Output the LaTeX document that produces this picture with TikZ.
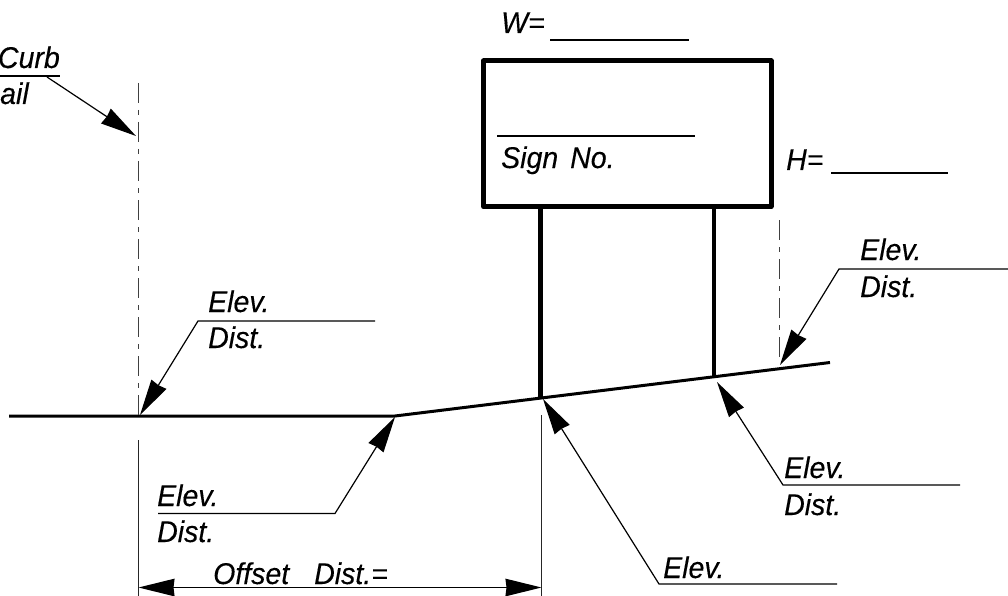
\documentclass[tikz,border=0pt]{standalone}
\usepackage{fontspec}
\setmainfont{Liberation Sans}[FakeStretch=0.95,FakeBold=0.25]
\usetikzlibrary{arrows.meta}
\tikzset{
  x=1pt,y=-1pt,
  lab/.style={inner sep=0pt,anchor=base west,font=\fontsize{30}{30}\selectfont\itshape},
  thin line/.style={line width=1.2pt,draw=black},
  leader/.style={line width=1.2pt,draw=black,-{Stealth[length=36pt,width=17.5pt,inset=1pt]}},
  dimline/.style={line width=1.2pt,draw=black,{Stealth[length=36pt,width=17.5pt,inset=1pt]}-{Stealth[length=36pt,width=17.5pt,inset=1pt]}},
  ground/.style={line width=3pt,draw=black},
  heavy/.style={line width=5pt,draw=black,line join=round},
  center line/.style={line width=0.9pt,draw=black!75,dash pattern=on 20pt off 7pt on 5pt off 7pt},
  ext/.style={line width=1.2pt,draw=black!85}
}
\begin{document}
\begin{tikzpicture}
\useasboundingbox (0,0) rectangle (1008,596);
% sign
\coordinate (signTL) at (483.5,61);
\coordinate (signBR) at (771,206.7);
\draw[heavy] (signTL) rectangle (signBR);
\coordinate (postLtop) at (540.5,207);
\coordinate (postRtop) at (714,207);
\coordinate (postLbot) at (540.5,398);
\coordinate (postRbot) at (714,377);
\draw[line width=5pt] (postLtop) -- (postLbot);
\draw[line width=4.5pt] (postRtop) -- (postRbot);
% ground
\coordinate (g0) at (9,416);
\coordinate (g1) at (395,416);
\coordinate (g2) at (830,362.5);
\draw[ground] (g0) -- (g1) -- (g2);
% center and extension lines
\coordinate (cl0) at (138.5,83);
\coordinate (cl1) at (138.5,416);
\draw[center line] (cl0) -- (cl1);
\coordinate (cr0) at (779,220);
\coordinate (cr1) at (779,358);
\draw[center line] (cr0) -- (cr1);
\coordinate (e0) at (138.5,440);
\coordinate (e1) at (138.5,596);
\coordinate (e2) at (541.5,415);
\coordinate (e3) at (541.5,596);
\draw[ext] (e0) -- (e1);
\draw[ext] (e2) -- (e3);
% dimension
\coordinate (d0) at (138.5,587.5);
\coordinate (d1) at (541.5,587.5);
\draw[dimline] (d0) -- (d1);
% blanks
\coordinate (w0) at (550,40); \coordinate (w1) at (689,40);
\draw[thin line] (w0) -- (w1);
\coordinate (h0) at (831,173); \coordinate (h1) at (948,173);
\draw[thin line] (h0) -- (h1);
\coordinate (s0) at (497,136); \coordinate (s1) at (695,136);
\draw[thin line] (s0) -- (s1);
% leaders
\coordinate (c0) at (0,76); \coordinate (c1) at (60,76); \coordinate (c2) at (47,77); \coordinate (c3) at (136,136);
\draw[thin line] (c0) -- (c1);
\draw[leader] (c2) -- (c3);
\coordinate (a0) at (375,321); \coordinate (a1) at (198,321); \coordinate (a2) at (140,415);
\draw[leader] (a0) -- (a1) -- (a2);
\coordinate (b0) at (158,513.5); \coordinate (b1) at (335,513.5); \coordinate (b2) at (395,417);
\draw[leader] (b0) -- (b1) -- (b2);
\coordinate (f0) at (837,584); \coordinate (f1) at (659,584); \coordinate (f2) at (543,399);
\draw[leader] (f0) -- (f1) -- (f2);
\coordinate (k0) at (960,485); \coordinate (k1) at (783,485); \coordinate (k2) at (717,382);
\draw[leader] (k0) -- (k1) -- (k2);
\coordinate (m0) at (1008,269); \coordinate (m1) at (839,269); \coordinate (m2) at (780,365);
\draw[leader] (m0) -- (m1) -- (m2);
% labels
\node[lab,anchor=base east] (curb) at (60,68) {Curb};
\node[lab,anchor=base west] (rail) at (0,104) {ail};
\node[lab] (wlab) at (501,33) {W=};
\node[lab] (sign) at (501,168) {Sign\hspace{12pt}No.};
\node[lab] (hlab) at (786,170) {H=};
\node[lab] (e1lab) at (208,312) {Elev.};
\node[lab] (d1lab) at (208,348) {Dist.};
\node[lab] (e2lab) at (157,506) {Elev.};
\node[lab] (d2lab) at (157,542) {Dist.};
\node[lab] (olab) at (213,584) {Offset\hspace{25pt}Dist.=};
\node[lab] (e3lab) at (663,578) {Elev.};
\node[lab] (e4lab) at (784,478) {Elev.};
\node[lab] (d4lab) at (784,515) {Dist.};
\node[lab] (e5lab) at (860,260) {Elev.};
\node[lab] (d5lab) at (860,297) {Dist.};
\end{tikzpicture}
\end{document}
